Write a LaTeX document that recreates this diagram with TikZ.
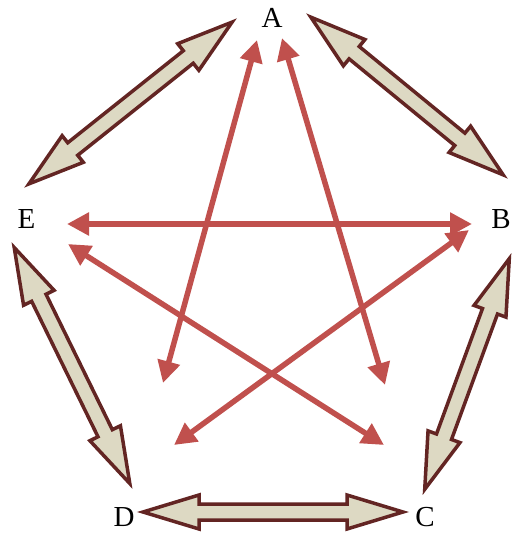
\documentclass[tikz,border=0pt]{standalone}
\usepackage{fontspec}
\setmainfont{Liberation Serif}
\usetikzlibrary{arrows.meta,calc}
\definecolor{starred}{HTML}{C0504D}
\definecolor{fattan}{HTML}{DDD9C3}
\definecolor{fatline}{HTML}{632523}
% fat double arrow between two named coordinates
\newcommand\drawfat[2]{%
  \coordinate (fp) at ($(#1)!5pt!(#2)$);
  \coordinate (fq) at ($(#2)!5pt!(#1)$);
  \coordinate (fh1) at ($(fp)!56pt!(fq)$);
  \coordinate (fh2) at ($(fq)!56pt!(fp)$);
  \draw[fatarrow] (fp)
    -- ($(fh1)!17pt!90:(fq)$) -- ($(fh1)!8pt!90:(fq)$)
    -- ($(fh2)!8pt!-90:(fp)$) -- ($(fh2)!17pt!-90:(fp)$)
    -- (fq)
    -- ($(fh2)!17pt!90:(fp)$) -- ($(fh2)!8pt!90:(fp)$)
    -- ($(fh1)!8pt!-90:(fq)$) -- ($(fh1)!17pt!-90:(fq)$)
    -- cycle;}
\begin{document}
\begin{tikzpicture}[x=1pt,y=-1pt,
  lbl/.style={font=\fontsize{29}{31}\selectfont, inner sep=0pt},
  starline/.style={draw=starred, line width=5.5pt,
    {Triangle[length=22pt,width=22pt]}-{Triangle[length=22pt,width=22pt]}},
  fatarrow/.style={draw=fatline, fill=fattan, line width=3.5pt, line join=miter}]
\useasboundingbox (0,0) rectangle (512,533);
% labels
\node[lbl] (A) at (272,18) {A};
\node[lbl] (B) at (501,219) {B};
\node[lbl] (C) at (425,517) {C};
\node[lbl] (D) at (124,517) {D};
\node[lbl] (E) at (26.5,219) {E};
% outer arrow ends
\coordinate (ae) at (236,19);
\coordinate (ea) at (25,187);
\coordinate (ab) at (307,14);
\coordinate (ba) at (507,178);
\coordinate (bc) at (511,254);
\coordinate (cb) at (423,494);
\coordinate (dc) at (138,512);
\coordinate (cd) at (408,512);
\coordinate (ed) at (12,243);
\coordinate (de) at (132,488);
\drawfat{ae}{ea}
\drawfat{ab}{ba}
\drawfat{bc}{cb}
\drawfat{dc}{cd}
\drawfat{ed}{de}
% star arrow ends
\coordinate (ad) at (257,40);
\coordinate (da) at (163,383);
\coordinate (ac) at (282,38);
\coordinate (ca) at (385,385);
\coordinate (eb) at (67,224);
\coordinate (be) at (472,224);
\coordinate (ec) at (68,244);
\coordinate (ce) at (384,445);
\coordinate (bd) at (469,230);
\coordinate (db) at (174,445);
\draw[starline] (ad) -- (da);
\draw[starline] (ac) -- (ca);
\draw[starline] (eb) -- (be);
\draw[starline] (ec) -- (ce);
\draw[starline] (bd) -- (db);
\end{tikzpicture}
\end{document}
